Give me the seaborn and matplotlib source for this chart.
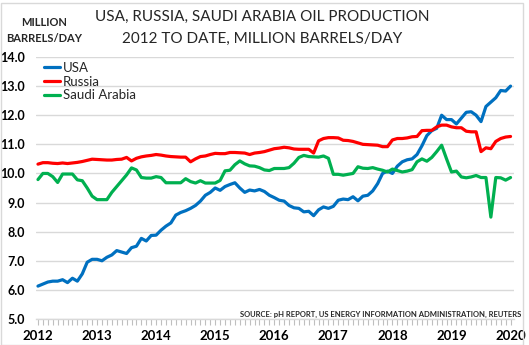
import numpy as np
import pandas as pd
import matplotlib
matplotlib.use("Agg")
import matplotlib.pyplot as plt
import seaborn as sns
from matplotlib.patches import Rectangle
from matplotlib.ticker import MultipleLocator

# Monthly data, Jan 2012 .. Jan 2020 (million barrels/day)
usa = [6.13, 6.2, 6.27, 6.3, 6.3, 6.35, 6.25, 6.4, 6.3, 6.55, 6.95, 7.05,
       7.05, 7.0, 7.12, 7.2, 7.35, 7.3, 7.25, 7.45, 7.5, 7.77, 7.68, 7.87,
       7.88, 8.05, 8.19, 8.3, 8.57, 8.66, 8.72, 8.8, 8.9, 9.05, 9.25, 9.35,
       9.5, 9.42, 9.55, 9.62, 9.68, 9.5, 9.35, 9.43, 9.4, 9.45, 9.38, 9.25,
       9.17, 9.08, 9.05, 8.9, 8.82, 8.8, 8.68, 8.7, 8.55, 8.75, 8.85, 8.8,
       8.87, 9.08, 9.12, 9.1, 9.2, 9.06, 9.22, 9.25, 9.4, 9.65, 10.0, 10.08,
       10.0, 10.25, 10.4, 10.47, 10.5, 10.65, 10.95, 11.3, 11.47, 11.55, 12.0, 11.85,
       11.85, 11.7, 11.9, 12.1, 12.12, 12.0, 11.78, 12.3, 12.45, 12.6, 12.85, 12.83,
       13.0]
russia = [10.32, 10.37, 10.37, 10.35, 10.34, 10.36, 10.34, 10.36, 10.38, 10.41, 10.45, 10.49,
          10.48, 10.47, 10.46, 10.46, 10.48, 10.49, 10.55, 10.43, 10.52, 10.57, 10.6, 10.62,
          10.65, 10.63, 10.6, 10.58, 10.57, 10.56, 10.56, 10.4, 10.5, 10.58, 10.6, 10.65,
          10.69, 10.68, 10.68, 10.72, 10.72, 10.71, 10.7, 10.65, 10.7, 10.72, 10.75, 10.8,
          10.85, 10.87, 10.9, 10.88, 10.84, 10.83, 10.83, 10.83, 10.7, 11.12, 11.2, 11.23,
          11.23, 11.22, 11.14, 11.13, 11.1, 11.05, 11.0, 10.99, 10.98, 10.97, 10.92, 10.92,
          11.15, 11.2, 11.2, 11.22, 11.26, 11.27, 11.47, 11.48, 11.48, 11.6, 11.66, 11.66,
          11.6, 11.57, 11.57, 11.45, 11.43, 11.43, 10.75, 10.88, 10.85, 11.1, 11.2, 11.25,
          11.27]
saudi = [9.79, 10.0, 10.0, 9.89, 9.69, 9.98, 9.98, 9.98, 9.78, 9.75, 9.5, 9.22,
         9.1, 9.1, 9.1, 9.35, 9.55, 9.75, 9.95, 10.19, 10.12, 9.86, 9.84, 9.84,
         9.89, 9.86, 9.68, 9.68, 9.68, 9.68, 9.82, 9.72, 9.67, 9.75, 9.67, 9.67,
         9.67, 9.76, 10.09, 10.11, 10.3, 10.43, 10.33, 10.26, 10.25, 10.2, 10.12, 10.1,
         10.17, 10.17, 10.17, 10.2, 10.35, 10.55, 10.62, 10.58, 10.57, 10.56, 10.6, 10.52,
         9.97, 9.97, 9.94, 9.97, 10.0, 10.23, 10.18, 10.17, 10.2, 10.15, 10.11, 10.05,
         10.15, 10.1, 10.05, 10.08, 10.13, 10.4, 10.5, 10.42, 10.55, 10.75, 10.97, 10.5,
         10.05, 10.08, 9.88, 9.85, 9.88, 9.93, 9.86, 9.86, 8.5, 9.86, 9.85, 9.77,
         9.86]
series_names = ["USA", "Russia", "Saudi Arabia"]
series_colors = ["#0070C0", "#FF0000", "#00B050"]
year_labels = ["2012", "2013", "2014", "2015", "2016", "2017", "2018", "2019", "2020"]
y_ticks = [5.0, 6.0, 7.0, 8.0, 9.0, 10.0, 11.0, 12.0, 13.0, 14.0]

months = np.arange(len(usa))
df = pd.concat([
    pd.DataFrame({"month": months, "value": vals, "series": name})
    for name, vals in zip(series_names, [usa, russia, saudi])
], ignore_index=True)

sns.set_theme(style="white")
plt.rcParams["font.family"] = ["Lato", "DejaVu Sans"]

W, H = 529, 345
fig = plt.figure(figsize=(W / 100, H / 100), dpi=100)
ax = fig.add_axes([36 / W, 1 - 319 / H, (514 - 36) / W, (319 - 57) / H])

sns.lineplot(data=df, x="month", y="value", hue="series", hue_order=series_names,
             palette=series_colors, linewidth=2.3, ax=ax, legend=True)

ax.set_xlim(-0.4, 96.7)
ax.set_ylim(5.0, 14.0)
ax.set_yticks(y_ticks)
ax.set_yticklabels([f"{v:.1f}" for v in y_ticks], fontsize=9, fontweight="bold")
ax.set_xticks(np.arange(0, len(usa), 12))
ax.set_xticklabels(year_labels, fontsize=9.5, fontweight="bold")
ax.xaxis.set_minor_locator(MultipleLocator(1))
ax.set_xlabel("")
ax.set_ylabel("")

ax.grid(axis="y", color="#D9D9D9", linewidth=1.0)
ax.grid(axis="x", visible=False)
for s in ["top", "right", "left"]:
    ax.spines[s].set_visible(False)
ax.spines["bottom"].set_color("#D9D9D9")
ax.spines["bottom"].set_linewidth(1.0)
ax.tick_params(axis="y", length=0, pad=8, colors="black")
ax.tick_params(axis="x", which="both", direction="out", bottom=True, length=4,
               color="#BFBFBF", width=0.8, pad=4, labelcolor="black")

leg = ax.legend(loc="upper left", bbox_to_anchor=(44 / W, 1 - 62 / H),
                bbox_transform=fig.transFigure, frameon=False, fontsize=9.5,
                handlelength=1.2, handletextpad=0.25, labelspacing=0.12,
                borderpad=0, borderaxespad=0)
for line in leg.get_lines():
    line.set_linewidth(2.3)

fig.text(262 / W, 1 - 17 / H, "USA, RUSSIA, SAUDI ARABIA OIL PRODUCTION",
         ha="center", va="center", fontsize=11)
fig.text(262 / W, 1 - 39 / H, "2012 TO DATE, MILLION BARRELS/DAY",
         ha="center", va="center", fontsize=11)
fig.text(44 / W, 1 - 22 / H, "MILLION", ha="center", va="center",
         fontsize=8, fontweight="bold")
fig.text(44 / W, 1 - 38 / H, "BARRELS/DAY", ha="center", va="center",
         fontsize=8, fontweight="bold")
fig.text(521 / W, 1 - 314 / H,
         "SOURCE: pH REPORT, US ENERGY INFORMATION ADMINISTRATION, REUTERS",
         ha="right", va="center", fontsize=5.5, fontweight="bold")

fig.patches.append(Rectangle((0.5 / W, 0.5 / H), 1 - 7 / W, 1 - 3 / H,
                             transform=fig.transFigure, fill=False,
                             edgecolor="#D9D9D9", linewidth=1.0))

fig.savefig("out.png", dpi=100)
